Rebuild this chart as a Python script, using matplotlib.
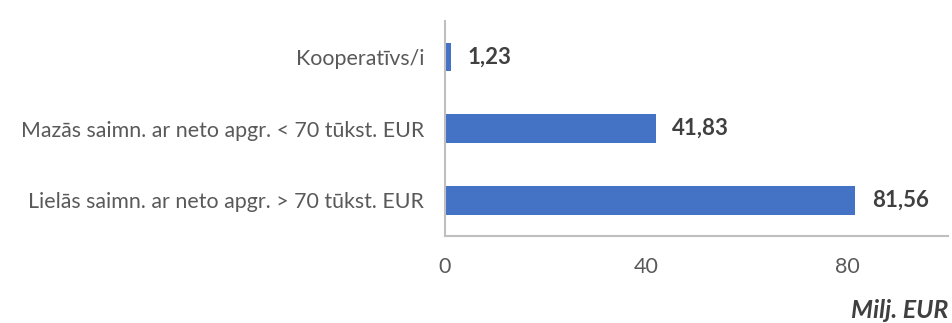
import matplotlib.pyplot as plt

# subsidy totals by farm group, million EUR
categories = ["Lielās saimn. ar neto apgr. > 70 tūkst. EUR",
              "Mazās saimn. ar neto apgr. < 70 tūkst. EUR",
              "Kooperatīvs/i"]
values = [81.56, 41.83, 1.23]
x_ticks = [0, 40, 80]

plt.rcParams['font.family'] = ['Lato', 'DejaVu Sans']

fig = plt.figure(figsize=(9.53, 3.23), dpi=100)
ax = fig.add_axes([0.467, 0.269, 0.528, 0.666])

bars = ax.barh(categories, values, height=0.4, color="#4472C4")
ax.set_xlim(0, 100)
ax.set_ylim(-0.5, 2.5)
ax.set_xticks(x_ticks)

for bar, v in zip(bars, values):
    ax.annotate(f"{v:.2f}".replace(".", ","),
                (bar.get_width(), bar.get_y() + bar.get_height() / 2),
                xytext=(12, 0), textcoords="offset points",
                ha="left", va="center", fontsize=16, fontweight="bold",
                color="#404040")

for side in ["top", "right"]:
    ax.spines[side].set_visible(False)
for side in ["left", "bottom"]:
    ax.spines[side].set_color("#BFBFBF")
    ax.spines[side].set_linewidth(1.5)

ax.tick_params(axis="both", length=0, labelcolor="#595959")
ax.tick_params(axis="y", pad=15, labelsize=15.4)
ax.tick_params(axis="x", pad=15, labelsize=15.5)

fig.text(0.995, 0.04, "Milj. EUR", ha="right", va="center",
         fontsize=18, fontweight="bold", fontstyle="italic", color="#404040")

fig.savefig("out.png", dpi=100)
